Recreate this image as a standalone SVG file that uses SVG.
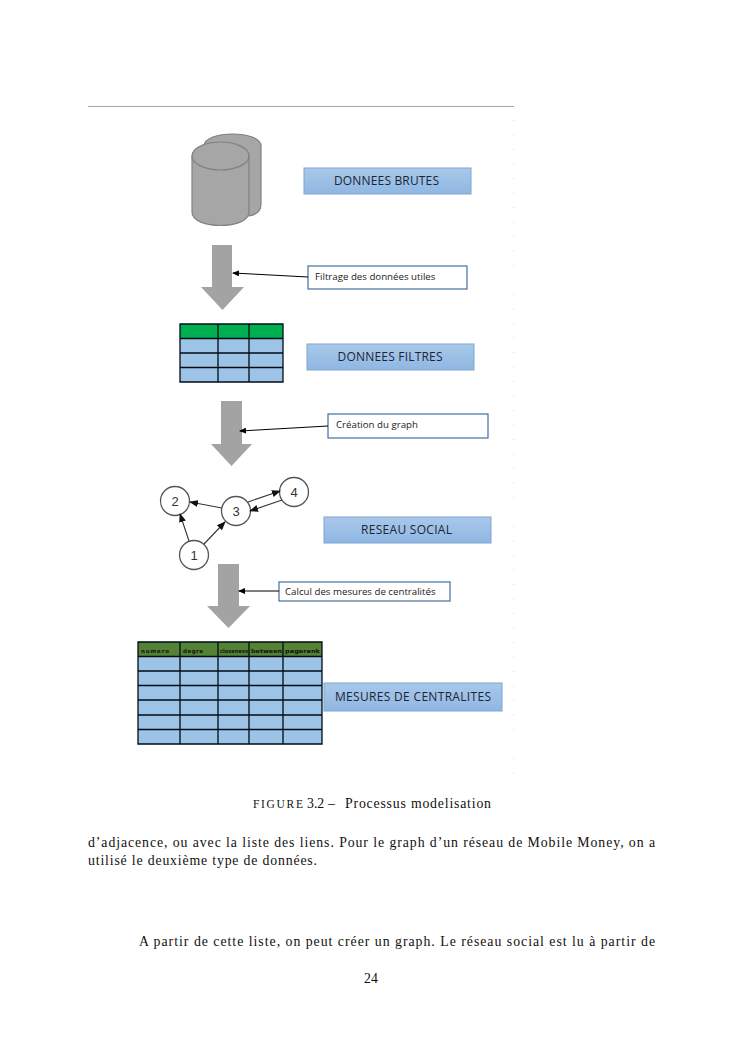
<svg xmlns="http://www.w3.org/2000/svg" width="745" height="1053" viewBox="0 0 745 1053">
<style>
.lbl{font-family:"Open Sans","Liberation Sans",sans-serif;fill:#1a2635;text-anchor:middle;font-size:12px;font-weight:500}
.note{font-family:"Open Sans","Liberation Sans",sans-serif;fill:#222;font-size:9.7px}
.bar{fill:url(#bl);stroke:#7ea6d0;stroke-width:1}
.nbox{fill:#fff;stroke:#41719c;stroke-width:1.2}
.arrow{fill:#a3a3a3}
.cyl{fill:#a6a6a6;stroke:#808080;stroke-width:1.2}
.ln{stroke:#000;stroke-width:1;fill:none;marker-end:url(#ah)}
.gl{stroke:#333;stroke-width:1.1;fill:none;marker-end:url(#ag)}
.cell{fill:#9dc3e6}
.grid{stroke:#000c18;stroke-width:1.3;fill:none}
.cap{font-family:"Liberation Serif",serif;fill:#111;font-size:13.8px}
.node{fill:#fff;stroke:#555;stroke-width:1.3}
.nt{font-family:"Liberation Sans",sans-serif;font-size:13px;fill:#333;text-anchor:middle}
.hd{font-family:"DejaVu Sans",sans-serif;font-size:5.5px;font-weight:bold;fill:#111}
</style>
<defs>
<linearGradient id="bl" x1="0" y1="0" x2="0" y2="1"><stop offset="0" stop-color="#a9c8ea"/><stop offset="1" stop-color="#8fb7e3"/></linearGradient>
<marker id="ah" markerWidth="7" markerHeight="6" refX="6" refY="3" orient="auto" markerUnits="userSpaceOnUse"><path d="M0 0L7 3L0 6Z" fill="#000"/></marker>
<marker id="ag" markerWidth="9" markerHeight="7" refX="8" refY="3.500" orient="auto" markerUnits="userSpaceOnUse"><path d="M0 0L9 3.500L0 7Z" fill="#111"/></marker>
</defs>
<rect width="745" height="1053" fill="#fff"/>
<line x1="88" y1="106.500" x2="514" y2="106.500" stroke="#a8a8a8"/>
<line x1="513.500" y1="120" x2="513.500" y2="775" stroke="#d8d8d8" stroke-dasharray="1 13.500"/>
<g id="cylinders">
<path class="cyl" d="M204 146C204 130 261 130 261 146V204C261 212 255 215 249 216H204Z"/>
<path class="cyl" d="M192 156V212C192 230 249 230 249 212V156Z"/>
<ellipse class="cyl" cx="220.500" cy="156" rx="28.500" ry="14"/>
</g>
<g id="bar-brutes"><rect class="bar" x="304" y="168" width="167" height="26"/><text class="lbl" x="386.500" y="185" textLength="105">DONNEES BRUTES</text></g>
<g id="arrow1"><path class="arrow" d="M212 245H232V287H244L222.500 310L201 287H212Z"/></g>
<g id="note1"><rect class="nbox" x="308" y="266" width="159" height="23"/><text class="note" x="315" y="280">Filtrage des données utiles</text></g>
<g id="table1">
<rect x="180" y="324" width="103" height="15" fill="#00b050"/>
<rect class="cell" x="180" y="339" width="103" height="43"/>
<path class="grid" d="M180 324H283V382H180ZM180 338.500H283M180 353H283M180 367.500H283M218 324V382M249 324V382"/>
</g>
<g id="bar-filtres"><rect class="bar" x="307" y="344" width="167" height="26"/><text class="lbl" x="390" y="361" textLength="105">DONNEES FILTRES</text></g>
<g id="arrow2"><path class="arrow" d="M221 401H242V444H252L231.500 466L211 444H221Z"/></g>
<g id="note2"><rect class="nbox" x="328" y="414" width="160" height="24"/><text class="note" x="336" y="428">Création du graph</text></g>
<g id="n1"><circle class="node" cx="194" cy="555" r="14.500"/><text class="nt" x="194" y="559.500">1</text></g>
<g id="n2"><circle class="node" cx="175" cy="501" r="14.500"/><text class="nt" x="175" y="505.500">2</text></g>
<g id="n3"><circle class="node" cx="236" cy="511" r="14.500"/><text class="nt" x="236" y="515.500">3</text></g>
<g id="n4"><circle class="node" cx="294" cy="492" r="14.500"/><text class="nt" x="294" y="496.500">4</text></g>
<g id="bar-reseau"><rect class="bar" x="324" y="517" width="167" height="26"/><text class="lbl" x="406.500" y="534" textLength="91">RESEAU SOCIAL</text></g>
<g id="arrow3"><path class="arrow" d="M218 564H239V606H250L228.500 628L207 606H218Z"/></g>
<g id="note3"><rect class="nbox" x="279" y="582" width="171" height="19"/><text class="note" x="285" y="595">Calcul des mesures de centralités</text></g>
<g id="table2">
<rect x="138" y="642" width="184" height="15" fill="#548235"/>
<rect class="cell" x="138" y="657" width="184" height="87"/>
<path class="grid" d="M138 642H322V744H138ZM138 656.500H322M138 671H322M138 685.500H322M138 700H322M138 715H322M138 729.500H322M180 642V744M218 642V744M249 642V744M283 642V744"/>
<text class="hd" x="141" y="653" textLength="28">numero</text><text class="hd" x="183" y="653" textLength="20">degre</text><text class="hd" x="220" y="653" textLength="28" lengthAdjust="spacingAndGlyphs">closeness</text><text class="hd" x="251" y="653" textLength="31" lengthAdjust="spacingAndGlyphs">between</text><text class="hd" x="285" y="653" textLength="35" lengthAdjust="spacingAndGlyphs">pagerank</text>
</g>
<g id="bar-mesures"><rect class="bar" x="324" y="683" width="178" height="28"/><text class="lbl" x="413" y="701" textLength="156">MESURES DE CENTRALITES</text></g>
<g id="connectors">
<line class="ln" x1="308" y1="277" x2="233" y2="273"/>
<line class="ln" x1="328" y1="426" x2="240" y2="431"/>
<line class="ln" x1="279" y1="591" x2="239" y2="591"/>
<line class="gl" x1="189" y1="541" x2="180" y2="514"/>
<line class="gl" x1="204" y1="544" x2="225" y2="522"/>
<line class="gl" x1="222" y1="508" x2="190" y2="502"/>
<line class="gl" x1="248" y1="502" x2="280" y2="491"/>
<line class="gl" x1="282" y1="500" x2="250" y2="511"/>
</g>
<g id="page-text">
<text class="cap" x="253" y="808"><tspan font-size="11.5" textLength="50">FIGURE</tspan></text>
<text class="cap" x="307" y="808">3.2</text>
<text class="cap" x="328" y="808">–</text>
<text class="cap" x="345" y="808" textLength="146">Processus modelisation</text>
<text class="cap" x="88" y="847" textLength="567">d’adjacence, ou avec la liste des liens. Pour le graph d’un réseau de Mobile Money, on a</text>
<text class="cap" x="88" y="865" textLength="229">utilisé le deuxième type de données.</text>
<text class="cap" x="139" y="946" textLength="516">A partir de cette liste, on peut créer un graph. Le réseau social est lu à partir de</text>
<text class="cap" x="364" y="983" font-size="14">24</text>
</g>
</svg>
